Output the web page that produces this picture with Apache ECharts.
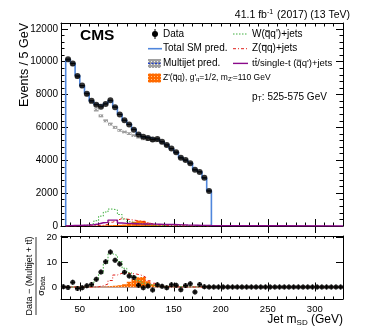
<!DOCTYPE html>
<html><head><meta charset="utf-8">
<script src="https://cdn.jsdelivr.net/npm/echarts@6/dist/echarts.min.js"></script>
<style>html,body{margin:0;padding:0;background:#fff}#c{width:382px;height:329px}</style>
</head><body><div id="c"></div>
<script>
// ---------- data ----------
const binCenters = [37.5,42.5,47.5,52.5,57.5,62.5,67.5,72.5,77.5,82.5,87.5,92.5,97.5,102.5,107.5,112.5,117.5,122.5,127.5,132.5,137.5,142.5,147.5,152.5,157.5,162.5,167.5,172.5,177.5,182.5,187.5];
const dataEvents = [10150,9880,9120,8550,8050,7620,7370,7250,7420,7650,7230,6780,6440,6170,5860,5560,5430,5360,5270,5300,5120,4930,4720,4490,4150,4010,3820,3420,3290,2930,2130];
const totalSM    = [10120,9900,9150,8520,8080,7600,7400,7280,7450,7620,7250,6800,6420,6200,5880,5580,5420,5380,5290,5260,5130,4950,4700,4480,4170,4000,3830,3430,3300,2920,2150];
const multijet   = [10080,9830,9060,8480,7980,7520,7060,6700,6400,6200,6000,5820,5720,5620,5500,5400,5300,5250,5190,5180,5050,4880,4680,4450,4130,3980,3790,3400,3270,2910,2110];
const multijetErr= [110,110,100,100,100,95,95,90,90,90,90,85,85,85,85,80,80,80,80,80,80,80,75,75,75,70,70,65,65,60,55];
const wJets      = [20,25,30,40,60,150,320,600,850,1030,980,700,420,260,160,110,80,60,50,45,40,35,30,28,25,22,20,18,16,15,12];
const zJets      = [5,5,8,10,12,15,25,40,100,230,350,450,420,380,340,300,240,170,100,60,35,20,15,12,10,8,7,6,5,4,3];
const ttbar      = [20,30,40,50,60,80,120,200,220,360,360,180,160,150,140,130,125,120,115,110,100,95,90,80,70,60,55,50,40,35,30];
const zprime     = [0,0,0,0,5,10,20,30,40,50,60,70,90,170,260,330,320,200,100,50,30,20,15,10,8,6,5,4,3,2,2];

const pullCenters = [32.5,37.5,42.5,47.5,52.5,57.5,62.5,67.5,72.5,77.5,82.5,87.5,92.5,97.5,102.5,107.5,112.5,117.5,122.5,127.5,132.5,137.5,142.5,147.5,152.5,157.5,162.5,167.5,172.5,177.5,182.5,187.5,192.5,197.5,202.5,207.5,212.5,217.5,222.5,227.5,232.5,237.5,242.5,247.5,252.5,257.5,262.5,267.5,272.5,277.5,282.5,287.5,292.5,297.5,302.5,307.5,312.5,317.5,322.5,327.5];
const pullData = [0.1,-0.2,1.9,-0.6,-0.3,0.5,1.0,3.1,6.0,10.1,14.0,10.7,9.2,5.9,4.4,3.8,0.7,-0.3,0.4,-1.2,0.9,0.3,-0.3,0.9,0.7,-1.1,0.6,1.3,-2.0,1.0,0.1,0.0,0,0,0,0,0,0,0,0,0,0,0,0,0,0,0,0,0,0,0,0,0,0,0,0,0,0,0,0];
const pullW  = [0,0,0,0,0.2,1.0,3.0,5.5,9.5,13.3,12.6,10.2,7.5,5.8,4.2,2.5,1.5,1.0,0.6,0.4,0.3,0.3,0.2,0.2,0.2,0.1,0.1,0.1,0.1,0.1,0.1];
const pullZ  = [0,0,0,0,0,0,0.1,0.5,1.2,2.6,4.8,5.5,5.5,5.4,5.2,4.8,4.0,2.5,1.5,0.8,0.4,0.2,0.1,0.1,0,0,0,0,0,0,0];
const pullZp = [0,0,0,0,0,0,0,0,0.1,0.3,0.5,0.7,1.1,2.1,3.1,3.9,4.0,2.3,1.1,0.6,0.3,0.2,0.1,0.1,0,0,0,0,0,0,0];

const xMajor = [50,100,150,200,250,300];
const yPullTicks = [0,10,20];

// ---------- helpers ----------
const HW = 2.5;
const FONT = 'Liberation Sans, Arial, sans-serif';
function steps(c, v, closed){
  const p=[]; if(closed) p.push([c[0]-HW,0]);
  c.forEach((x,i)=>p.push([x-HW, v[i]]));
  p.push([c[c.length-1]+HW, v[v.length-1]]);
  if(closed) p.push([c[c.length-1]+HW,0]);
  return p;
}
function mkPattern(bg, fg){
  const cv=document.createElement('canvas'); cv.width=3; cv.height=3;
  const g=cv.getContext('2d'); g.fillStyle=bg; g.fillRect(0,0,3,3);
  g.fillStyle=fg; g.fillRect(1,1,1,1); return cv;
}
const greyPat = {image: mkPattern('#a0a0a0','#f0f0f0'), repeat:'repeat'};
const orangePat = {image: mkPattern('#ff6a00','#ffc58a'), repeat:'repeat'};
const mctx = document.createElement('canvas').getContext('2d');
function tw(s, size){ mctx.font = size+'px '+FONT; return mctx.measureText(s).width; }
// overline helper for legend text (bar over one character)
function bar(x, y, prefix, ch, size, dy){
  const x0 = x + tw(prefix, size), x1 = x0 + tw(ch, size);
  return {type:'line', shape:{x1:x0+0.3, y1:y+dy, x2:x1-0.3, y2:y+dy}, style:{stroke:'#000', lineWidth:0.7}};
}

function boxItem(params, api){
  const c=api.value(0), v=api.value(1), e=api.value(2);
  const a=api.coord([c-HW, v+e]), b=api.coord([c+HW, v-e]);
  return {type:'rect', shape:{x:a[0], y:a[1], width:b[0]-a[0], height:b[1]-a[1]}, style:{fill:greyPat}};
}
function barItem(params, api){
  const c=api.value(0), v=api.value(1);
  const a=api.coord([c-HW, v]), b=api.coord([c+HW, 0]);
  return {type:'rect', shape:{x:a[0], y:a[1], width:b[0]-a[0], height:b[1]-a[1]}, style:{fill:orangePat}};
}
function errItem(params, api){
  const c=api.value(0), v=api.value(1), e=api.value(2);
  const l=api.coord([c-HW, v]), r=api.coord([c+HW, v]);
  const ch=[{type:'line', shape:{x1:l[0],y1:l[1],x2:r[0],y2:r[1]}, style:{stroke:'#000', lineWidth:1}}];
  if(e>0){ const t=api.coord([c, v+e]), bt=api.coord([c, v-e]);
    ch.push({type:'line', shape:{x1:t[0],y1:t[1],x2:bt[0],y2:bt[1]}, style:{stroke:'#000', lineWidth:1}}); }
  return {type:'group', children:ch};
}

function xAx(grid, pos, opts){
  return Object.assign({type:'value', gridIndex:grid, position:pos, min:30, max:330, interval:10,
    axisLine:{show:true, onZero:false, lineStyle:{color:'#000', width:1}},
    axisTick:{show:true, inside:true, length:3.5, lineStyle:{color:'#000'}},
    axisLabel:{show:false}, splitLine:{show:false}}, opts||{});
}
function xMaj(grid, pos, len){
  return {type:'value', gridIndex:grid, position:pos, min:30, max:330, interval:10,
    axisLine:{show:false}, axisTick:{show:true, inside:true, length:len, customValues:xMajor, lineStyle:{color:'#000'}},
    axisLabel:{show:false}, splitLine:{show:false}};
}

const ch = echarts.init(document.getElementById('c'), null, {renderer:'canvas'});
const option = {
  animation:false,
  grid:[{left:61, top:23, width:282, height:203},{left:61, top:236, width:282, height:63}],
  xAxis:[
    xAx(0,'bottom'), xAx(0,'top'), xMaj(0,'bottom',7), xMaj(0,'top',7),
    xAx(1,'bottom',{axisTick:{show:true,inside:true,length:2.5,lineStyle:{color:'#000'}},
      axisLabel:{show:true, margin:5, fontFamily:FONT, fontSize:9.5, color:'#000', formatter:v=>(v%50===0?String(v):'')}}),
    xAx(1,'top',{axisTick:{show:true,inside:true,length:2.5,lineStyle:{color:'#000'}}}),
    xMaj(1,'bottom',4.5), xMaj(1,'top',4.5)
  ],
  yAxis:[
    {type:'value', gridIndex:0, position:'left', min:0, max:12350, interval:2000,
     axisLine:{show:true, lineStyle:{color:'#000'}}, axisTick:{show:true, inside:true, length:7, lineStyle:{color:'#000'}},
     minorTick:{show:true, splitNumber:5, length:3.5, lineStyle:{color:'#000'}},
     axisLabel:{show:true, margin:3, fontFamily:FONT, fontSize:10, color:'#000', formatter:v=>String(v)}, splitLine:{show:false}, minorSplitLine:{show:false}},
    {type:'value', gridIndex:0, position:'right', min:0, max:12350, interval:2000,
     axisLine:{show:true, lineStyle:{color:'#000'}}, axisTick:{show:true, inside:true, length:7, lineStyle:{color:'#000'}},
     minorTick:{show:true, splitNumber:5, length:3.5, lineStyle:{color:'#000'}},
     axisLabel:{show:false}, splitLine:{show:false}},
    {type:'value', gridIndex:1, position:'left', min:-4.8, max:20.4,
     axisLine:{show:true, lineStyle:{color:'#000'}}, axisTick:{show:true, inside:true, length:7, customValues:yPullTicks, lineStyle:{color:'#000'}},
     axisLabel:{show:true, margin:4, fontFamily:FONT, fontSize:9.5, color:'#000', customValues:yPullTicks, formatter:v=>String(v)}, splitLine:{show:false}},
    {type:'value', gridIndex:1, position:'right', min:-4.8, max:20.4,
     axisLine:{show:true, lineStyle:{color:'#000'}}, axisTick:{show:true, inside:true, length:7, customValues:yPullTicks, lineStyle:{color:'#000'}},
     axisLabel:{show:false}, splitLine:{show:false}}
  ],
  series:[
    // ---- main panel ----
    {type:'custom', xAxisIndex:0, yAxisIndex:0, clip:true, z:2, renderItem:barItem,
     data:binCenters.map((c,i)=>[c, zprime[i]])},
    {type:'custom', xAxisIndex:0, yAxisIndex:0, clip:true, z:3, renderItem:boxItem,
     data:binCenters.map((c,i)=>[c, multijet[i], multijetErr[i]])},
    {type:'line', xAxisIndex:0, yAxisIndex:0, step:'end', symbol:'none', z:4,
     lineStyle:{color:'#4f86dc', width:1.6}, data:steps(binCenters,totalSM,true)},
    {type:'line', xAxisIndex:0, yAxisIndex:0, step:'end', symbol:'none', z:5,
     lineStyle:{color:'#3fae3f', width:1, type:[1.5,1.5]}, data:steps(binCenters,wJets,true)},
    {type:'line', xAxisIndex:0, yAxisIndex:0, step:'end', symbol:'none', z:5,
     lineStyle:{color:'#e0201c', width:1, type:[3,2,1,2]}, data:steps(binCenters,zJets,true)},
    {type:'line', xAxisIndex:0, yAxisIndex:0, step:'end', symbol:'none', z:5,
     lineStyle:{color:'#8a0a8a', width:1.4}, data:steps(binCenters,ttbar,true).concat([[330,0]])},
    {type:'custom', xAxisIndex:0, yAxisIndex:0, clip:true, z:6, renderItem:errItem,
     data:binCenters.map((c,i)=>[c, dataEvents[i], 0])},
    {type:'scatter', xAxisIndex:0, yAxisIndex:0, symbol:'circle', symbolSize:6, z:7,
     itemStyle:{color:'#000'}, data:binCenters.map((c,i)=>[c, dataEvents[i]])},
    // ---- pull panel ----
    {type:'line', xAxisIndex:4, yAxisIndex:2, symbol:'none', z:2,
     lineStyle:{color:'#b08270', width:1.6}, data:[[30,0],[330,0]]},
    {type:'custom', xAxisIndex:4, yAxisIndex:2, clip:true, z:3, renderItem:barItem,
     data:binCenters.map((c,i)=>[c, pullZp[i]])},
    {type:'line', xAxisIndex:4, yAxisIndex:2, step:'end', symbol:'none', z:4,
     lineStyle:{color:'#3fae3f', width:1, type:[1.5,1.5]}, data:steps(binCenters,pullW,false)},
    {type:'line', xAxisIndex:4, yAxisIndex:2, step:'end', symbol:'none', z:4,
     lineStyle:{color:'#e0201c', width:1, type:[3,2,1,2]}, data:steps(binCenters,pullZ,false)},
    {type:'custom', xAxisIndex:4, yAxisIndex:2, clip:true, z:5, renderItem:errItem,
     data:pullCenters.map((c,i)=>[c, pullData[i], 1])},
    {type:'scatter', xAxisIndex:4, yAxisIndex:2, symbol:'circle', symbolSize:5, z:6,
     itemStyle:{color:'#000'}, data:pullCenters.map((c,i)=>[c, pullData[i]])}
  ],
  graphic:[
    {type:'text', x:80, y:36, style:{text:'CMS', font:'bold 15.5px '+FONT, fill:'#000', textVerticalAlign:'middle'}},
    {type:'text', x:350, y:15, style:{text:'{n|41.1 fb}{s|-1}{n| (2017) (13 TeV)}', textAlign:'right', textVerticalAlign:'middle',
      rich:{n:{fontFamily:FONT, fontSize:10.5, fill:'#000'}, s:{fontFamily:FONT, fontSize:7, fill:'#000', verticalAlign:'top', padding:[0,1,5,0]}}}},
    {type:'text', x:25, y:23, rotation:Math.PI/2, style:{text:'Events / 5 GeV', font:'12.5px '+FONT, fill:'#000', textAlign:'right', textVerticalAlign:'middle'}},
    {type:'text', x:30, y:276, rotation:Math.PI/2, style:{text:'Data \u2212 (Multijet + tt\u0304)', font:'9px '+FONT, fill:'#000', textAlign:'center', textVerticalAlign:'middle'}},
    {type:'line', shape:{x1:36, y1:237, x2:36, y2:315}, style:{stroke:'#000', lineWidth:0.8}},
    {type:'text', x:41.5, y:286, rotation:Math.PI/2, style:{text:'{n|\u03c3}{s|Data}', textAlign:'center', textVerticalAlign:'middle',
      rich:{n:{fontFamily:FONT, fontSize:9, fill:'#000'}, s:{fontFamily:FONT, fontSize:6.5, fill:'#000', verticalAlign:'bottom', padding:[4,0,0,0]}}}},
    {type:'text', x:343, y:320, style:{text:'{n|Jet m}{s|SD}{n| (GeV)}', textAlign:'right', textVerticalAlign:'middle',
      rich:{n:{fontFamily:FONT, fontSize:12, fill:'#000'}, s:{fontFamily:FONT, fontSize:8, fill:'#000', verticalAlign:'bottom', padding:[5,0,0,0]}}}},
    // legend column 1
    {type:'line', shape:{x1:155, y1:29, x2:155, y2:39}, style:{stroke:'#000', lineWidth:1}},
    {type:'circle', shape:{cx:155, cy:34, r:3}, style:{fill:'#000'}},
    {type:'text', x:163, y:34, style:{text:'Data', font:'10px '+FONT, fill:'#000', textVerticalAlign:'middle'}},
    {type:'line', shape:{x1:148, y1:48.7, x2:162, y2:48.7}, style:{stroke:'#4f86dc', lineWidth:1.6}},
    {type:'text', x:163, y:48.7, style:{text:'Total SM pred.', font:'10px '+FONT, fill:'#000', textVerticalAlign:'middle'}},
    {type:'rect', shape:{x:148, y:59, width:13, height:9}, style:{fill:greyPat}},
    {type:'line', shape:{x1:148, y1:63.4, x2:161, y2:63.4}, style:{stroke:'#1f3fd0', lineWidth:1.2, lineDash:[2,1.5]}},
    {type:'text', x:163, y:63.4, style:{text:'Multijet pred.', font:'10px '+FONT, fill:'#000', textVerticalAlign:'middle'}},
    {type:'rect', shape:{x:148, y:73.5, width:13, height:9}, style:{fill:orangePat}},
    {type:'text', x:163, y:78.1, style:{text:"{n|Z'(qq), g'}{s|q}{n|=1/2, m}{s|Z'}{n|=110 GeV}", textVerticalAlign:'middle',
      rich:{n:{fontFamily:FONT, fontSize:8.5, fill:'#000'}, s:{fontFamily:FONT, fontSize:6, fill:'#000', verticalAlign:'bottom', padding:[3,0,0,0]}}}},
    bar(163, 78.1, "Z'(", 'q', 8.5, -3),
    // legend column 2
    {type:'line', shape:{x1:233, y1:34, x2:248, y2:34}, style:{stroke:'#3fae3f', lineWidth:1, lineDash:[1.5,1.5]}},
    {type:'text', x:252, y:34, style:{text:"W(qq')+jets", font:'10px '+FONT, fill:'#000', textVerticalAlign:'middle'}},
    bar(252, 34, 'W(', 'q', 10, -3.3),
    {type:'line', shape:{x1:233, y1:48.7, x2:248, y2:48.7}, style:{stroke:'#e0201c', lineWidth:1, lineDash:[3,2,1,2]}},
    {type:'text', x:252, y:48.7, style:{text:'Z(qq)+jets', font:'10px '+FONT, fill:'#000', textVerticalAlign:'middle'}},
    bar(252, 48.7, 'Z(', 'q', 10, -3.3),
    {type:'line', shape:{x1:233, y1:63.4, x2:248, y2:63.4}, style:{stroke:'#8a0a8a', lineWidth:1.4}},
    {type:'text', x:252, y:63.4, style:{text:"tt/single-t (qq')+jets", font:'9.5px '+FONT, fill:'#000', textVerticalAlign:'middle'}},
    bar(252, 63.4, 't', 't', 9.5, -5),
    bar(252, 63.4, 'tt/single-t (', 'q', 9.5, -3.2),
    {type:'text', x:252, y:97, style:{text:'{n|p}{s|T}{n|: 525-575 GeV}', textVerticalAlign:'middle',
      rich:{n:{fontFamily:FONT, fontSize:10, fill:'#000'}, s:{fontFamily:FONT, fontSize:7, fill:'#000', verticalAlign:'bottom', padding:[4,0,0,0]}}}}
  ]
};
ch.setOption(option);
</script></body></html>
